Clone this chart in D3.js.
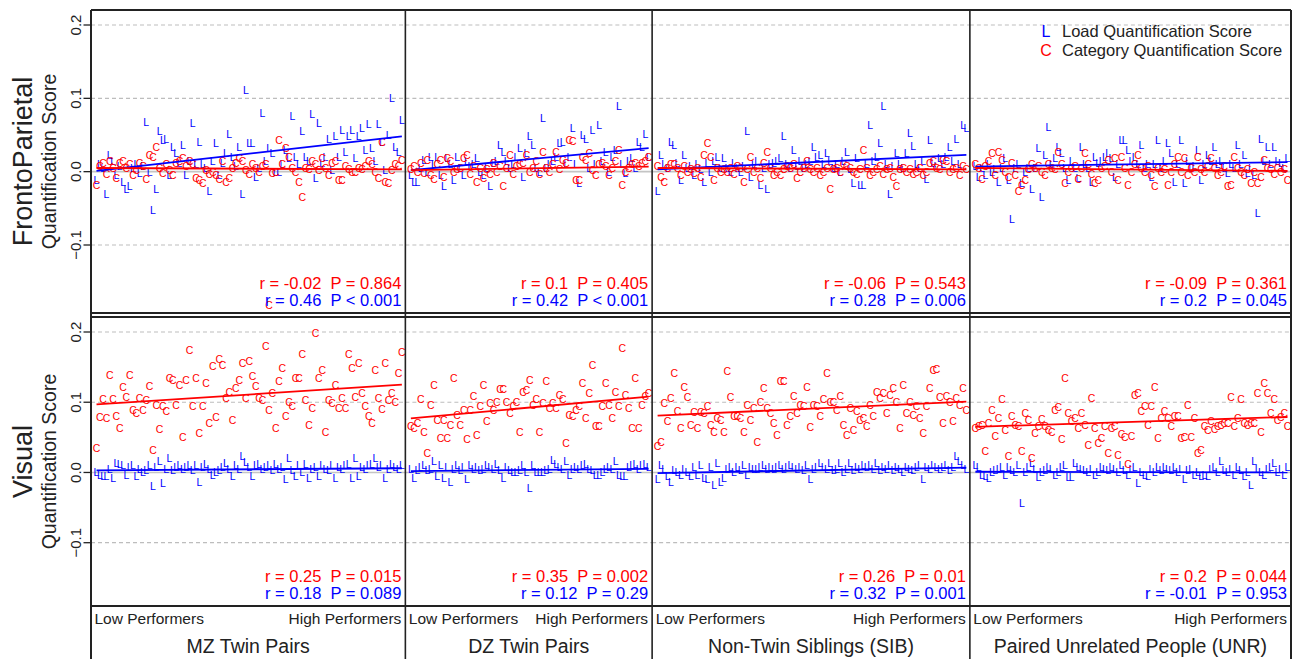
<!DOCTYPE html>
<html>
<head>
<meta charset="utf-8">
<script src="https://cdn.jsdelivr.net/npm/d3@7"></script>
<style>
  body { margin: 0; background: #fff; }
  svg { display: block; font-family: "Liberation Sans", Arial, Helvetica, sans-serif; }
</style>
</head>
<body>
<svg id="chart" width="1294" height="659"></svg>
<script>
// group names (columns) and network names (rows)
var groups = ['MZ Twin Pairs', 'DZ Twin Pairs', 'Non-Twin Siblings (SIB)', 'Paired Unrelated People (UNR)'];
var networks = ['FrontoParietal', 'Visual'];
var yTicks = [-0.1, 0, 0.1, 0.2];

// scores, in thousandths, ordered from low to high performers
// FrontoParietal - load (L)
var fpLoadMZ = [-11, 11, 5, -30, 23, 14, -5, 8, -14, -24, -20, 5, 10, -2, 8, 68, 0, -52, -24, 55,
  43, 45, -5, 34, 25, 12, 36, -5, 15, 67, 10, 41, 10, 5, -27, 15, 39, -5, 12, 25,
  51, 20, 8, 34, -31, 111, 39, 39, -7, 5, 80, 15, 32, 25, 0, 0, 10, 30, 18, 76,
  20, 10, 55, 20, 15, 78, -9, 67, 12, 20, 45, 2, 48, 20, 57, 27, 48, 57, 18, 48,
  60, 30, 65, 32, 15, 65, 41, 2, 50, 100, 34, 27, 70];
var fpLoadDZ = [-5, -14, -14, 5, 16, 0, 20, 10, 20, -5, -20, 18, 10, -11, 20, 5, -5, 15, 8, 10,
  18, 0, -5, 5, -20, 12, 15, 36, 27, 15, 5, 10, 20, 32, -7, 25, 48, 36, 5, 0,
  73, 5, 10, 15, 20, 39, 41, 10, 20, 59, 10, -16, 50, 45, 5, 57, 10, 64, 15, 27,
  0, 20, 30, 89, 10, -2, 15, 18, 5, 41, 34, 52, 20];
var fpLoadSIB = [-27, 23, 10, 5, 40, 36, 12, -11, 23, 5, 8, -5, 10, 3, -14, 12, 0, 15, 20, 5,
  18, 5, 0, 12, 5, 0, 8, 56, -7, 10, 15, -18, 5, -23, 10, 12, 15, 18, 49, 10,
  5, 30, 8, 15, 5, 10, 15, 34, 20, 23, 10, 25, 15, 5, 10, 0, 15, 27, 3, -16,
  18, -18, -18, 10, 64, 15, 20, 39, 89, 10, -30, 8, 25, 10, 5, 25, 53, 35, 10, 5,
  15, -10, 43, 12, 8, 18, 10, 20, 34, 15, 45, 10, 64, 60];
var fpLoadUNR = [8, -7, 5, -5, 10, 0, 3, -14, 5, 18, -11, -64, 5, 10, -16, 0, 5, -23, 5, 32,
  -34, 23, 61, 10, 18, 34, 25, 5, -11, 15, 5, -9, 34, 10, 5, -14, 20, 12, 15, 20,
  25, 18, -7, 10, 43, 43, 30, 15, 20, 10, 36, 5, 10, -7, 10, 43, 5, 15, 39, 25,
  -14, 10, 43, -16, 15, 5, 8, 30, -11, 10, 23, 15, 34, 10, 15, 5, -2, 10, 5, 36,
  10, 23, -2, 5, -5, -57, 45, 15, 34, 10, 34, 15, 12, 5, 18];
// FrontoParietal - category (C)
var fpCatMZ = [-18, 8, 12, -3, 15, 5, -8, 12, 15, 5, 10, -5, 2, 12, 8, -10, 23, 20, 34, 5,
  -2, 10, 2, -5, 12, 15, 18, 8, 15, 10, -8, -12, -16, 2, -3, 0, -5, -10, 15, -14,
  -8, 5, 12, 18, 15, 2, -3, 10, 5, 0, 8, 10, -182, -2, 0, 43, 10, 32, 20, 5,
  0, -14, -34, 5, 3, 15, 10, 2, 18, 5, -5, 12, 15, -11, -11, 8, 3, 0, 0, 5,
  3, 8, 15, 10, 0, -9, 41, -14, -16, 2, 10, 8, 16];
var fpCatDZ = [3, 8, 0, 12, -2, 16, -5, -10, 10, 16, -7, 18, 15, 0, 3, 5, 18, 23, -3, 8,
  -14, 5, -8, 3, -3, 12, 0, 8, -20, 5, 23, -3, 8, 10, 12, 23, 0, 5, 15, -3,
  27, 5, 0, 10, 27, 3, 16, 12, 43, 42, -11, -11, 20, 16, 25, 2, -5, 10, 12, 8,
  -5, 5, 15, 30, -18, 0, 5, 10, 12, 8, 12, 15, 20];
var fpCatSIB = [8, -7, -14, 5, 10, 10, 5, -5, 8, 0, 3, -2, 5, -7, 23, 39, 20, -11, 5, 0,
  3, 0, 5, -3, 8, 5, -14, 3, 20, 0, 5, -8, 12, 27, 5, -5, 0, -5, 3, 8,
  5, 10, -8, 0, 5, 15, 3, 0, 5, -5, 0, 5, -23, 3, 5, 0, 10, 8, 5, 0,
  -3, 3, 30, 5, -5, 0, 3, 8, -3, 3, 5, -7, -20, 3, 5, 0, 3, -3, 0, 5,
  -5, 0, 12, 14, 5, 3, 16, 14, 0, 3, 5, -5, 8, 3];
var fpCatUNR = [10, 5, -10, 8, 15, 25, -5, 27, 16, 0, -7, 12, -5, -27, -18, -11, 3, 10, 5, 8,
  0, -5, 10, 5, 3, 27, 10, -16, 0, 5, 8, -10, 5, 25, 10, -3, -16, -11, 5, 8,
  16, 0, 18, -11, 20, 5, -18, 0, 10, 23, 5, 0, 8, -5, -20, 5, 0, 3, -18, 0,
  10, 20, 0, 18, -5, 5, 0, 20, 3, 0, 8, 18, 5, -5, 0, 8, -20, -18, 20, 5,
  0, -5, 3, -16, 0, -16, -7, 16, 5, 3, -3, 5, 0, 3, -11];
// Visual - load (L)
var visLoadMZ = [0, -3, -5, -5, 5, -8, 13, 12, 10, -3, 8, 10, -5, 5, 0, 3, 10, -19, 8, 16,
  -15, 5, 20, 3, 8, 10, 5, 8, 10, 3, 10, -13, 8, 12, 5, -3, 0, 3, 8, 13,
  5, -5, 10, 5, 23, 15, 8, -5, 10, 12, 5, 8, 10, 3, 12, 5, 8, -10, 20, 3,
  -5, 10, 0, 12, -8, 5, 8, -5, 10, 5, 3, 10, -8, 8, 5, 10, 12, -8, 20, -5,
  8, 5, 10, 12, 20, 8, 10, -8, 5, 12, 8, 5, 10];
var visLoadDZ = [5, -8, 3, 8, 10, 3, 5, 16, -5, 10, -8, 8, -13, 5, 10, 3, 8, -10, 10, 5,
  8, 3, 5, 10, 8, 5, 12, 3, -8, 8, 3, 0, 0, 3, 11, 0, -22, 10, 0, 0,
  0, 3, 5, 18, 12, 8, 5, 16, -3, 5, 8, 5, 10, 12, 5, 3, -3, -3, 0, 5,
  8, 5, 16, -3, -5, -5, 8, 10, 12, 5, 10, 12, 8];
var visLoadSIB = [-10, 10, 5, -5, -13, 3, 0, -3, 5, 0, -5, 8, -3, 10, -8, -10, 8, -18, 13, -13,
  -8, 5, 8, 0, 8, 3, 10, -3, 8, 5, 5, 8, 10, 5, 8, 5, 8, 10, 5, 8,
  10, 8, 5, 8, 3, 10, -10, 5, 8, 13, 8, 5, 13, 3, 5, 13, 0, 5, 13, 3,
  8, 5, 10, 8, 10, 5, 13, 3, 8, 5, 10, 3, 8, 5, 0, 8, 5, 3, 8, 10,
  -10, 8, 5, 10, 8, 5, 8, 10, 3, 8, 23, 16, 10, 5];
var visLoadUNR = [11, 8, -3, -5, -8, 0, 3, 5, 8, -3, 8, 3, 0, 11, -44, 0, 8, 13, 5, -6,
  0, 3, 8, 5, -3, 0, 8, 10, -6, -6, 13, 8, 5, 3, 0, 5, -3, 0, 8, 5,
  3, 8, 5, 0, 11, 3, -3, 5, 8, -15, 0, -3, -5, 5, 0, 8, 3, 8, 5, 3,
  8, 0, 5, -10, 3, 5, -3, 0, -5, -3, -5, 5, 8, 0, 16, 3, 0, 5, -3, 8,
  3, -5, 0, -18, 16, 5, 0, -3, 5, 8, 14, 0, 5, -3, 8];
// Visual - category (C)
var visCatMZ = [35, 79, 104, 77, 139, 105, 80, 63, 122, 107, 139, 89, 85, 106, 89, 103, 123, 32, 96, 62,
  94, 87, 134, 132, 96, 125, 51, 131, 174, 94, 134, 56, 94, 127, 70, 151, 79, 161, 153, 106,
  115, 75, 120, 132, 156, 106, 158, 137, 123, 106, 103, 180, 89, 113, 63, 130, 149, 80, 101, 94,
  134, 134, 168, 103, 68, 92, 198, 134, 146, 58, 103, 99, 125, 92, 106, 92, 168, 149, 108, 156,
  113, 94, 80, 70, 146, 106, 90, 156, 103, 113, 101, 142, 172];
var visCatDZ = [66, 63, 70, 104, 58, 28, 96, 125, 75, 49, 75, 49, 68, 134, 82, 68, 89, 47, 89, 109,
  54, 94, 125, 73, 99, 89, 101, 119, 119, 101, 85, 94, 101, 58, 115, 118, 132, 96, 104, 58,
  99, 130, 92, 99, 92, 111, 104, 42, 82, 80, 89, 94, 128, 77, 113, 153, 66, 66, 94, 127,
  96, 77, 115, 94, 177, 111, 92, 63, 134, 63, 96, 109, 113];
var visCatSIB = [37, 43, 99, 73, 106, 142, 87, 63, 122, 107, 68, 86, 63, 86, 85, 95, 68, 58, 77, 75,
  58, 145, 107, 81, 80, 77, 58, 96, 75, 92, 44, 101, 120, 92, 85, 70, 54, 130, 130, 68,
  81, 109, 85, 96, 94, 122, 65, 96, 94, 81, 104, 142, 101, 101, 89, 109, 68, 54, 92, 61,
  87, 75, 77, 66, 96, 81, 115, 106, 113, 85, 111, 120, 101, 63, 125, 85, 100, 82, 94, 77,
  56, 94, 120, 146, 147, 108, 71, 109, 101, 73, 106, 96, 120, 89];
var visCatUNR = [63, 66, 67, 30, 70, 89, 52, 77, 104, 60, 24, 80, 68, 66, 30, 84, 74, 20, 56, 66,
  76, 66, 61, 57, 89, 93, 48, 134, 84, 73, 77, 63, 84, 68, 39, 106, 63, 42, 49, 66,
  28, 63, 66, 25, 55, 51, 12, 52, 111, 113, 87, 94, 68, 94, 122, 49, 77, 87, 77, 66,
  80, 80, 49, 51, 96, 51, 77, 28, 32, 66, 61, 73, 62, 66, 68, 70, 70, 107, 66, 77,
  104, 70, 68, 70, 70, 113, 58, 127, 113, 85, 104, 75, 79, 85, 66];

// fitted lines: [value at low end, value at high end], thousandths
var fpLoadFit = [[1, 48], [2, 32], [3, 23], [7, 13]];
var fpCatFit = [[5, 3], [2, 7], [5, 3], [5, 1]];
var visLoadFit = [[3, 6], [2, 5], [-1, 7], [1, 0]];
var visCatFit = [[97, 125], [77, 108], [81, 101], [65, 79]];

// correlation labels
var fpCatStats = ['r = -0.02  P = 0.864', 'r = 0.1  P = 0.405', 'r = -0.06  P = 0.543', 'r = -0.09  P = 0.361'];
var fpLoadStats = ['r = 0.46  P < 0.001', 'r = 0.42  P < 0.001', 'r = 0.28  P = 0.006', 'r = 0.2  P = 0.045'];
var visCatStats = ['r = 0.25  P = 0.015', 'r = 0.35  P = 0.002', 'r = 0.26  P = 0.01', 'r = 0.2  P = 0.044'];
var visLoadStats = ['r = 0.18  P = 0.089', 'r = 0.12  P = 0.29', 'r = 0.32  P = 0.001', 'r = -0.01  P = 0.953'];

var legendItems = [['L', 'Load Quantification Score', 'blue'], ['C', 'Category Quantification Score', 'red']];

// ---- layout ----
var BLUE = '#0000ff', RED = '#ff0000', INK = '#222';
var left = 91, right = 1291, bottomEdge = 659;

var rows = [
  { name: networks[0], top: 10, bottom: 313, range: [245, 25],
    load: [fpLoadMZ, fpLoadDZ, fpLoadSIB, fpLoadUNR], cat: [fpCatMZ, fpCatDZ, fpCatSIB, fpCatUNR],
    loadFit: fpLoadFit, catFit: fpCatFit, loadStats: fpLoadStats, catStats: fpCatStats },
  { name: networks[1], top: 317, bottom: 606, range: [542.7, 332],
    load: [visLoadMZ, visLoadDZ, visLoadSIB, visLoadUNR], cat: [visCatMZ, visCatDZ, visCatSIB, visCatUNR],
    loadFit: visLoadFit, catFit: visCatFit, loadStats: visLoadStats, catStats: visCatStats }
];

var svg = d3.select('#chart');

// column widths follow the number of pairs in each group
var counts = rows[0].load.map(function (d) { return d.length; });
var cum = [0];
counts.forEach(function (c, i) { cum.push(cum[i] + c); });
var colScale = d3.scaleLinear().domain([0, d3.sum(counts)]).range([left, right]);
var edges = cum.map(colScale);

rows.forEach(function (row) {
  var y = d3.scaleLinear().domain([-0.1, 0.2]).range(row.range);
  var g = svg.append('g');

  groups.forEach(function (grp, c) {
    var x0 = edges[c], x1 = edges[c + 1];
    var n = row.load[c].length;
    var x = d3.scaleLinear().domain([1, n]).range([x0 + 5.5, x1 - 3.5]);

    // reference lines
    yTicks.forEach(function (t) {
      g.append('line')
        .attr('x1', x0).attr('x2', x1)
        .attr('y1', y(t)).attr('y2', y(t))
        .attr('stroke', t === 0 ? '#c4c4c4' : '#bdbdbd')
        .attr('stroke-width', t === 0 ? 1.6 : 1.2)
        .attr('stroke-dasharray', t === 0 ? null : '4,3');
    });

    // points drawn as letters, like pch = "L" / "C"
    [[row.load[c], 'L', BLUE], [row.cat[c], 'C', RED]].forEach(function (s) {
      g.append('g').selectAll('text')
        .data(s[0])
        .enter().append('text')
        .attr('x', function (d, i) { return x(i + 1); })
        .attr('y', function (d) { return y(d / 1000); })
        .attr('text-anchor', 'middle')
        .attr('dominant-baseline', 'central')
        .style('font-size', '10.5px')
        .attr('fill', s[2])
        .text(s[1]);
    });

    // fitted lines
    [[row.loadFit[c], BLUE], [row.catFit[c], RED]].forEach(function (f) {
      g.append('line')
        .attr('x1', x(1)).attr('x2', x(n))
        .attr('y1', y(f[0][0] / 1000)).attr('y2', y(f[0][1] / 1000))
        .attr('stroke', f[1]).attr('stroke-width', 1.8);
    });

    // correlation text
    g.append('text')
      .attr('x', x1 - 4).attr('y', row.bottom - 24.5)
      .attr('text-anchor', 'end').style('white-space', 'pre')
      .style('font-size', '16.5px').attr('fill', RED)
      .text(row.catStats[c]);
    g.append('text')
      .attr('x', x1 - 4).attr('y', row.bottom - 7.5)
      .attr('text-anchor', 'end').style('white-space', 'pre')
      .style('font-size', '16.5px').attr('fill', BLUE)
      .text(row.loadStats[c]);
  });

  // y axis
  yTicks.forEach(function (t) {
    g.append('line')
      .attr('x1', left - 7.5).attr('x2', left)
      .attr('y1', y(t)).attr('y2', y(t))
      .attr('stroke', INK).attr('stroke-width', 1.3);
    g.append('text')
      .attr('transform', 'translate(' + 80.5 + ',' + y(t) + ') rotate(-90)')
      .attr('text-anchor', 'middle')
      .style('font-size', '15px').attr('fill', INK)
      .text(d3.format('.1f')(t));
  });

  var mid = (row.top + row.bottom) / 2;
  g.append('text')
    .attr('transform', 'translate(32,' + mid + ') rotate(-90)')
    .attr('text-anchor', 'middle')
    .style('font-size', '27px').attr('fill', INK)
    .text(row.name);
  g.append('text')
    .attr('transform', 'translate(56,' + mid + ') rotate(-90)')
    .attr('text-anchor', 'middle')
    .style('font-size', '19.5px').attr('fill', INK)
    .text('Quantification Score');

  // horizontal frame edges
  [row.top, row.bottom].forEach(function (yy) {
    g.append('line')
      .attr('x1', left).attr('x2', right)
      .attr('y1', yy).attr('y2', yy)
      .attr('stroke', INK).attr('stroke-width', 1.8);
  });
});

// vertical frame edges and column separators, running down into the label strip
edges.forEach(function (ex, i) {
  svg.append('line')
    .attr('x1', ex).attr('x2', ex)
    .attr('y1', rows[0].top).attr('y2', bottomEdge)
    .attr('stroke', INK)
    .attr('stroke-width', (i === 0 || i === edges.length - 1) ? 2 : 1.6);
});

// group labels under the panels
groups.forEach(function (grp, c) {
  var x0 = edges[c], x1 = edges[c + 1];
  svg.append('text').attr('x', x0 + 3.5).attr('y', 624)
    .style('font-size', '15.5px').attr('fill', INK).text('Low Performers');
  svg.append('text').attr('x', x1 - 4).attr('y', 624).attr('text-anchor', 'end')
    .style('font-size', '15.5px').attr('fill', INK).text('High Performers');
  svg.append('text').attr('x', (x0 + x1) / 2).attr('y', 652.5).attr('text-anchor', 'middle')
    .style('font-size', '19.5px').attr('fill', INK).text(grp);
});

// legend in the top right panel
var lg = svg.append('g');
legendItems.forEach(function (d, i) {
  var yy = 36.5 + i * 19;
  lg.append('text').attr('x', 1046).attr('y', yy).attr('text-anchor', 'middle')
    .style('font-size', '16px').attr('fill', d[2] === 'blue' ? BLUE : RED).text(d[0]);
  lg.append('text').attr('x', 1062).attr('y', yy)
    .style('font-size', '16.5px').attr('fill', INK).text(d[1]);
});
</script>
</body>
</html>
